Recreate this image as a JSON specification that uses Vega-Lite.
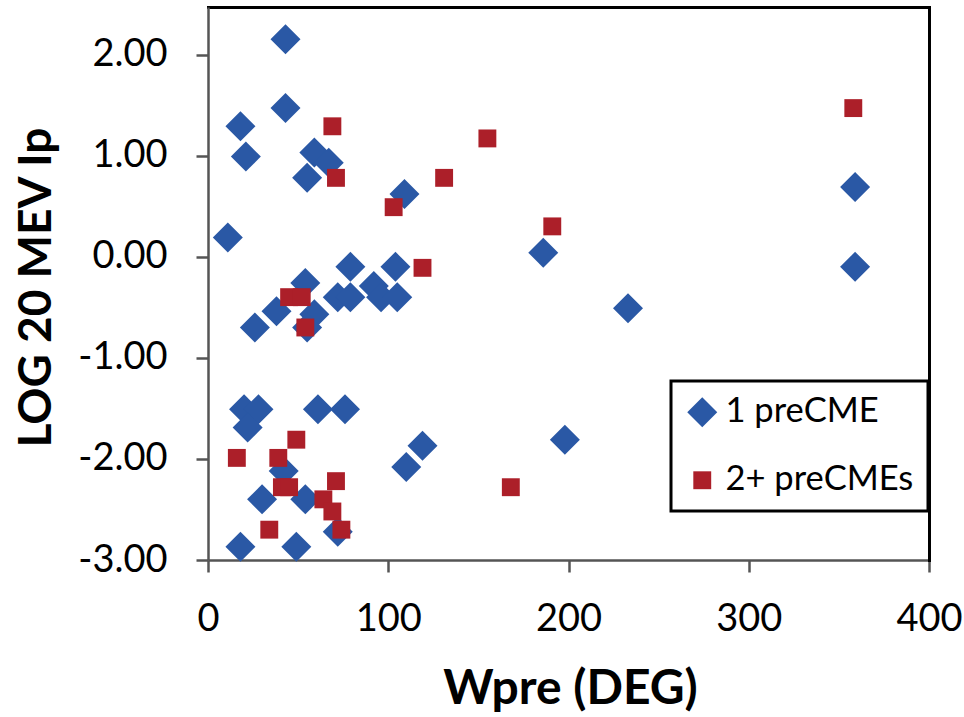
{
  "$schema": "https://vega.github.io/schema/vega-lite/v6.json",
  "width": 721,
  "height": 553,
  "autosize": "none",
  "padding": {"left": 208, "top": 7, "right": 35, "bottom": 157},
  "background": "white",
  "data": {
    "values": [
      {"w": 43, "ip": 2.15, "s": "1 preCME"},
      {"w": 43, "ip": 1.47, "s": "1 preCME"},
      {"w": 18, "ip": 1.29, "s": "1 preCME"},
      {"w": 21, "ip": 0.99, "s": "1 preCME"},
      {"w": 59, "ip": 1.03, "s": "1 preCME"},
      {"w": 67, "ip": 0.93, "s": "1 preCME"},
      {"w": 55, "ip": 0.78, "s": "1 preCME"},
      {"w": 109, "ip": 0.62, "s": "1 preCME"},
      {"w": 11, "ip": 0.19, "s": "1 preCME"},
      {"w": 186, "ip": 0.04, "s": "1 preCME"},
      {"w": 79, "ip": -0.10, "s": "1 preCME"},
      {"w": 104, "ip": -0.10, "s": "1 preCME"},
      {"w": 54, "ip": -0.26, "s": "1 preCME"},
      {"w": 92, "ip": -0.29, "s": "1 preCME"},
      {"w": 72, "ip": -0.40, "s": "1 preCME"},
      {"w": 79, "ip": -0.40, "s": "1 preCME"},
      {"w": 96, "ip": -0.40, "s": "1 preCME"},
      {"w": 105, "ip": -0.40, "s": "1 preCME"},
      {"w": 59, "ip": -0.57, "s": "1 preCME"},
      {"w": 55, "ip": -0.70, "s": "1 preCME"},
      {"w": 38, "ip": -0.54, "s": "1 preCME"},
      {"w": 26, "ip": -0.70, "s": "1 preCME"},
      {"w": 20, "ip": -1.51, "s": "1 preCME"},
      {"w": 28, "ip": -1.51, "s": "1 preCME"},
      {"w": 22, "ip": -1.69, "s": "1 preCME"},
      {"w": 61, "ip": -1.51, "s": "1 preCME"},
      {"w": 76, "ip": -1.51, "s": "1 preCME"},
      {"w": 119, "ip": -1.87, "s": "1 preCME"},
      {"w": 110, "ip": -2.08, "s": "1 preCME"},
      {"w": 198, "ip": -1.81, "s": "1 preCME"},
      {"w": 42, "ip": -2.12, "s": "1 preCME"},
      {"w": 30, "ip": -2.40, "s": "1 preCME"},
      {"w": 54, "ip": -2.40, "s": "1 preCME"},
      {"w": 72, "ip": -2.72, "s": "1 preCME"},
      {"w": 18, "ip": -2.87, "s": "1 preCME"},
      {"w": 49, "ip": -2.87, "s": "1 preCME"},
      {"w": 359, "ip": 0.69, "s": "1 preCME"},
      {"w": 359, "ip": -0.10, "s": "1 preCME"},
      {"w": 233, "ip": -0.51, "s": "1 preCME"},
      {"w": 69, "ip": 1.29, "s": "2+ preCMEs"},
      {"w": 155, "ip": 1.17, "s": "2+ preCMEs"},
      {"w": 71, "ip": 0.78, "s": "2+ preCMEs"},
      {"w": 131, "ip": 0.78, "s": "2+ preCMEs"},
      {"w": 103, "ip": 0.49, "s": "2+ preCMEs"},
      {"w": 191, "ip": 0.30, "s": "2+ preCMEs"},
      {"w": 119, "ip": -0.11, "s": "2+ preCMEs"},
      {"w": 45, "ip": -0.40, "s": "2+ preCMEs"},
      {"w": 52, "ip": -0.40, "s": "2+ preCMEs"},
      {"w": 54, "ip": -0.70, "s": "2+ preCMEs"},
      {"w": 49, "ip": -1.81, "s": "2+ preCMEs"},
      {"w": 16, "ip": -1.99, "s": "2+ preCMEs"},
      {"w": 39, "ip": -1.99, "s": "2+ preCMEs"},
      {"w": 41, "ip": -2.28, "s": "2+ preCMEs"},
      {"w": 45, "ip": -2.28, "s": "2+ preCMEs"},
      {"w": 71, "ip": -2.22, "s": "2+ preCMEs"},
      {"w": 64, "ip": -2.40, "s": "2+ preCMEs"},
      {"w": 69, "ip": -2.52, "s": "2+ preCMEs"},
      {"w": 74, "ip": -2.70, "s": "2+ preCMEs"},
      {"w": 34, "ip": -2.70, "s": "2+ preCMEs"},
      {"w": 168, "ip": -2.28, "s": "2+ preCMEs"},
      {"w": 358, "ip": 1.47, "s": "2+ preCMEs"}
    ]
  },
  "layer": [
    {
      "mark": {"type": "point", "filled": true, "opacity": 1, "strokeWidth": 0},
      "encoding": {
        "x": {
          "field": "w", "type": "quantitative",
          "scale": {"domain": [0, 400], "nice": false, "zero": false},
          "axis": {
            "orient": "bottom", "values": [0, 100, 200, 300, 400], "grid": false,
            "domainColor": "#555555", "domainWidth": 2.5,
            "tickColor": "#555555", "tickWidth": 2.5, "tickSize": 12,
            "labelFont": "Lato", "labelFontSize": 38, "labelColor": "black",
            "labelPadding": 28, "labelFlush": false, "labelOverlap": false,
            "title": "Wpre (DEG)", "titleFont": "Lato", "titleFontSize": 48,
            "titleFontWeight": "bold", "titleColor": "black",
            "titleX": 362, "titleY": 143, "titleBaseline": "alphabetic", "titleAlign": "center"
          }
        },
        "y": {
          "field": "ip", "type": "quantitative",
          "scale": {"domain": [-3, 2.47], "nice": false, "zero": false},
          "axis": {
            "orient": "left", "values": [-3, -2, -1, 0, 1, 2], "grid": false,
            "labelExpr": "replace(format(datum.value, '.2f'), '−', '-')",
            "domainColor": "#555555", "domainWidth": 2.5,
            "tickColor": "#555555", "tickWidth": 2.5, "tickSize": 12,
            "labelFont": "Lato", "labelFontSize": 38, "labelColor": "black",
            "labelPadding": 29, "labelFlush": false, "labelOverlap": false,
            "title": "LOG 20 MEV Ip", "titleFont": "Lato", "titleFontSize": 46,
            "titleFontWeight": "bold", "titleColor": "black",
            "titleAngle": 270, "titleX": -158, "titleY": 280,
            "titleBaseline": "alphabetic", "titleAlign": "center"
          }
        },
        "shape": {
          "field": "s", "type": "nominal",
          "scale": {"domain": ["1 preCME", "2+ preCMEs"], "range": ["diamond", "square"]},
          "legend": {
            "orient": "none", "legendX": 463, "legendY": 374, "title": null,
            "strokeColor": "black", "fillColor": "white",
            "padding": 14, "rowPadding": 33, "labelLimit": 400,
            "labelFont": "Lato", "labelFontSize": 34.5, "labelColor": "black",
            "labelOffset": 6, "symbolSize": 500, "symbolStrokeWidth": 0
          }
        },
        "color": {
          "field": "s", "type": "nominal",
          "scale": {"domain": ["1 preCME", "2+ preCMEs"], "range": ["#2A58A5", "#AC1F29"]},
          "legend": {
            "orient": "none", "legendX": 463, "legendY": 374, "title": null,
            "strokeColor": "black", "fillColor": "white",
            "padding": 14, "rowPadding": 33, "labelLimit": 400,
            "labelFont": "Lato", "labelFontSize": 34.5, "labelColor": "black",
            "labelOffset": 6, "symbolSize": 500, "symbolStrokeWidth": 0
          }
        },
        "size": {
          "field": "s", "type": "nominal",
          "scale": {"domain": ["1 preCME", "2+ preCMEs"], "range": [900, 320]},
          "legend": null
        }
      }
    },
    {
      "mark": {"type": "point", "opacity": 0},
      "encoding": {
        "x": {
          "field": "w", "type": "quantitative",
          "axis": {"orient": "top", "grid": false, "ticks": false, "labels": false, "title": null,
                   "domainColor": "black", "domainWidth": 3, "domainCap": "square"}
        },
        "y": {
          "field": "ip", "type": "quantitative",
          "axis": {"orient": "right", "grid": false, "ticks": false, "labels": false, "title": null,
                   "domainColor": "black", "domainWidth": 3, "domainCap": "square"}
        }
      }
    }
  ],
  "resolve": {"axis": {"x": "independent", "y": "independent"}},
  "config": {"view": {"stroke": null}, "font": "Lato", "legend": {"strokeWidth": 3, "labelLimit": 400}}
}
